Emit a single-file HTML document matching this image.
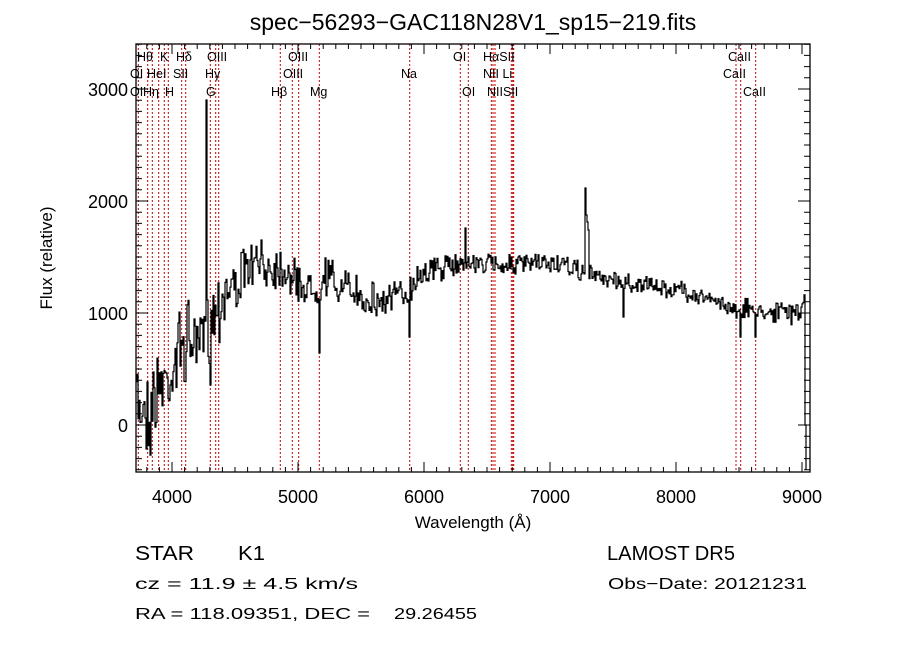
<!DOCTYPE html>
<html><head><meta charset="utf-8"><style>
html,body{margin:0;padding:0;background:#fff;}
svg{display:block;font-family:"Liberation Sans",sans-serif;}
</style></head><body>
<svg id="s" width="900" height="649" viewBox="0 0 900 649" xmlns="http://www.w3.org/2000/svg">
<rect width="900" height="649" fill="#fff"/>
<text x="473" y="30" font-size="23" text-anchor="middle">spec−56293−GAC118N28V1_sp15−219.fits</text>
<g id="lines" stroke="#c00000" stroke-width="1" stroke-dasharray="2,2"></g>
<g id="labs" font-size="12.5" fill="#000"></g>
<path id="spec" fill="none" stroke="#000" stroke-width="1.2"/>
<g id="ax" stroke="#000" stroke-width="1.3" fill="none"></g>
<g font-size="18" fill="#000">
<text x="128" y="96" text-anchor="end">3000</text>
<text x="128" y="208" text-anchor="end">2000</text>
<text x="128" y="320" text-anchor="end">1000</text>
<text x="128" y="432" text-anchor="end">0</text>
<text x="172" y="503" text-anchor="middle">4000</text>
<text x="298" y="503" text-anchor="middle">5000</text>
<text x="424" y="503" text-anchor="middle">6000</text>
<text x="550" y="503" text-anchor="middle">7000</text>
<text x="676" y="503" text-anchor="middle">8000</text>
<text x="802" y="503" text-anchor="middle">9000</text>
<text x="473" y="528" text-anchor="middle" font-size="17">Wavelength (Å)</text>
<text transform="translate(52,258) rotate(-90)" text-anchor="middle" font-size="17">Flux (relative)</text>
<text x="135" y="560" font-size="20" textLength="59" lengthAdjust="spacingAndGlyphs">STAR</text>
<text x="238" y="560" font-size="20" textLength="27" lengthAdjust="spacingAndGlyphs">K1</text>
<text x="135" y="589" font-size="16" textLength="223" lengthAdjust="spacingAndGlyphs">cz = 11.9 ± 4.5 km/s</text>
<text x="135" y="619" font-size="16" textLength="235" lengthAdjust="spacingAndGlyphs">RA = 118.09351, DEC =</text>
<text x="394" y="619" font-size="16" textLength="83" lengthAdjust="spacingAndGlyphs">29.26455</text>
<text x="607" y="560" font-size="20" textLength="128" lengthAdjust="spacingAndGlyphs">LAMOST DR5</text>
<text x="608" y="589" font-size="16" textLength="199" lengthAdjust="spacingAndGlyphs">Obs−Date: 20121231</text>
</g>
</svg>
<script>
var NS="http://www.w3.org/2000/svg";
function el(p,t,a,txt){var e=document.createElementNS(NS,t);for(var k in a)e.setAttribute(k,a[k]);if(txt)e.textContent=txt;p.appendChild(e);return e;}
var L=136,R=810,T=44,B=472;
var lg=document.getElementById('lines');
[138.3,147.7,152.3,158.7,164.3,168.3,181.7,185.7,210.3,215.7,218.7,280.3,292.3,298.7,319.3,409.7,460.3,468.3,491.3,493,495,511.3,512.7,513.7,736,740.7,755.7].forEach(function(x){el(lg,'line',{x1:x,x2:x,y1:T,y2:B});});
var lb=document.getElementById('labs');
[[137,61,"Hθ"],[160,61,"K"],[176,61,"Hδ"],[207,61,"OIII"],[288,61,"OIII"],[453,61,"OI"],[483,61,"HαSII"],[728,61,"CaII"],
[130,78,"OI"],[147,78,"HeI"],[173,78,"SII"],[205,78,"Hγ"],[283,78,"OIII"],[401,78,"Na"],[483,78,"NII Li"],[723,78,"CaII"],
[130,96,"OI"],[143,96,"Hη"],[165,96,"H"],[206,96,"G"],[271,96,"Hβ"],[310,96,"Mg"],[462,96,"OI"],[487,96,"NIISII"],[743,96,"CaII"]].forEach(function(a){el(lb,'text',{x:a[0],y:a[1]},a[2]);});
var ax=document.getElementById('ax');
el(ax,'rect',{x:L,y:T,width:R-L,height:B-T});
var d="";
for(var w=3800;w<=9000;w+=100){var x=172+(w-4000)*0.126;var len=(w%1000==0)?10:5;d+="M"+x+" "+B+"v-"+len+"M"+x+" "+T+"v"+len;}
for(var f=-400;f<=3400;f+=100){var y=425-f*0.112;var len=(f%1000==0)?12:6;d+="M"+L+" "+y+"h"+len+"M"+R+" "+y+"h-"+len;}
el(ax,'path',{d:d,'stroke-width':1});
var seed=7;function rnd(){seed=(seed*16807)%2147483647;return seed/2147483647-0.5;}
var base=[[136,400,50],[150,410,50],[160,385,40],[170,378,35],[180,345,45],[200,340,40],[212,315,40],[225,292,35],[240,280,28],[250,265,24],[280,266,22],[300,286,22],[318,290,22],[325,275,22],[340,288,20],[380,302,20],[408,292,16],[420,272,16],[445,267,14],[460,264,12],[560,264,10],[580,272,10],[620,282,10],[680,290,10],[720,303,10],[740,310,12],[800,312,12],[803,300,8]];
function bv(x){for(var i=0;i<base.length-1;i++){if(x>=base[i][0]&&x<=base[i+1][0]){var t=(x-base[i][0])/(base[i+1][0]-base[i][0]);return [base[i][1]+t*(base[i+1][1]-base[i][1]),base[i][2]+t*(base[i+1][2]-base[i][2])];}}return [300,8];}
var spikes={206:100,207:300,210:385,319:353,409:337,465:228,585:188,586:215,587:222,588:230,623:317,740:337,755:337};
var p="";
for(var x=136;x<=804;x+=1){var b=bv(x);var y=b[0]+rnd()*b[1]*1.4+rnd()*b[1]*0.8;if(spikes[x]!==undefined)y=spikes[x];
 if(x==136)p+="M"+x+" "+y.toFixed(1);else p+="H"+x+"V"+y.toFixed(1);}
p+="H805V425H806V470";
document.getElementById('spec').setAttribute('d',p);
</script>
</body></html>
